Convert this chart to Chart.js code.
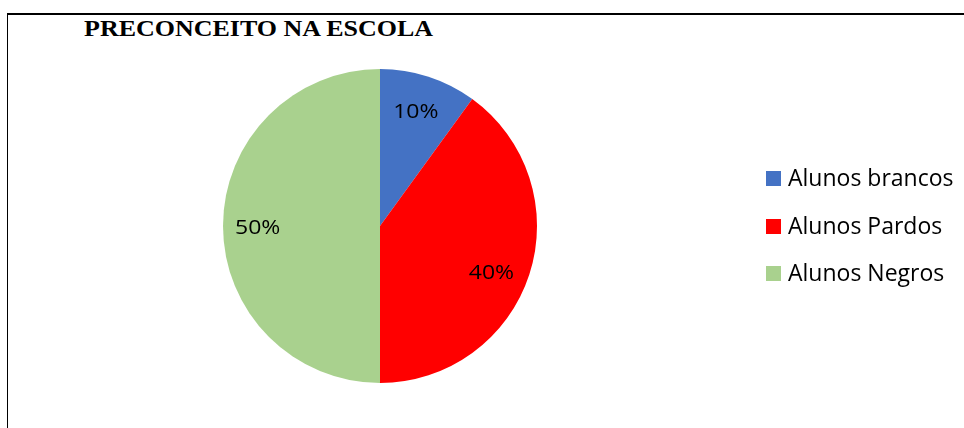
<!DOCTYPE html>
<html>
<head>
<meta charset="utf-8">
<script src="https://cdn.jsdelivr.net/npm/chart.js@4"></script>
<style>
    html, body { margin: 0; padding: 0; background: #fff; }
    #wrap { position: relative; width: 964px; height: 428px; overflow: hidden; }
    #frame { position: absolute; left: 7px; top: 13px; width: 1000px; height: 500px;
             border-left: 1px solid #000; border-top: 2px solid #000; box-sizing: border-box; }
    #title { position: absolute; left: 84px; top: 15.5px; font-family: "Liberation Serif", serif;
             font-weight: bold; font-size: 23px; color: #000; white-space: nowrap;
             transform: scaleX(1.13); transform-origin: left top; }
    #pieChart { position: absolute; left: 0; top: 0; }
    #legend { position: absolute; left: 766px; top: 161px; list-style: none; margin: 0; padding: 0;
              font-family: "Open Sans", sans-serif; font-size: 23px; color: #000; }
    #legend li { height: 47.5px; display: flex; align-items: flex-start; white-space: nowrap; }
    #legend span.box { display: inline-block; width: 15px; height: 15px; margin-right: 7px; margin-top: 10px; }
</style>
</head>
<body>
<div id="wrap">
    <div id="frame"></div>
    <div id="title">PRECONCEITO NA ESCOLA</div>
    <canvas id="pieChart" width="964" height="428"></canvas>
    <ul id="legend"></ul>
</div>
<script>
const categories = ['Alunos brancos', 'Alunos Pardos', 'Alunos Negros'];
const percentages = [10, 40, 50];
const sliceColors = ['#4472C4', '#FF0000', '#A9D18E'];

// small label shifts, Excel's "best fit" doesn't sit exactly on the mid angle
const labelNudge = [[-1, 0], [-2, 10], [-3, 2]];

// percent labels inside the slices
const sliceLabels = {
    id: 'sliceLabels',
    afterDatasetsDraw(chart) {
        const ctx = chart.ctx;
        const meta = chart.getDatasetMeta(0);
        ctx.save();
        ctx.font = '20px "Open Sans", sans-serif';
        ctx.fillStyle = '#000';
        ctx.textAlign = 'center';
        ctx.textBaseline = 'middle';
        meta.data.forEach((arc, i) => {
            const p = arc.getProps(['x', 'y', 'startAngle', 'endAngle', 'outerRadius'], true);
            const mid = (p.startAngle + p.endAngle) / 2;
            const r = p.outerRadius * 0.76;
            const x = p.x + Math.cos(mid) * r + labelNudge[i][0];
            const y = p.y + Math.sin(mid) * r + labelNudge[i][1];
            ctx.save();
            ctx.translate(x, y);
            ctx.scale(1.15, 1);
            ctx.fillText(percentages[i] + '%', 0, 0);
            ctx.restore();
        });
        ctx.restore();
    }
};

function buildLegend() {
    const legendEl = document.getElementById('legend');
    categories.forEach((name, i) => {
        const li = document.createElement('li');
        const box = document.createElement('span');
        box.className = 'box';
        box.style.background = sliceColors[i];
        li.appendChild(box);
        li.appendChild(document.createTextNode(name));
        legendEl.appendChild(li);
    });
}

const ctxPie = document.getElementById('pieChart').getContext('2d');
const pieChart = new Chart(ctxPie, {
    type: 'pie',
    data: {
        labels: categories,
        datasets: [{
            data: percentages,
            backgroundColor: sliceColors,
            borderWidth: 0
        }]
    },
    options: {
        responsive: false,
        animation: false,
        layout: {
            padding: { left: 223, top: 69, right: 427, bottom: 45 }
        },
        plugins: {
            legend: { display: false },
            tooltip: { enabled: false }
        }
    },
    plugins: [sliceLabels]
});

buildLegend();
</script>
</body>
</html>
